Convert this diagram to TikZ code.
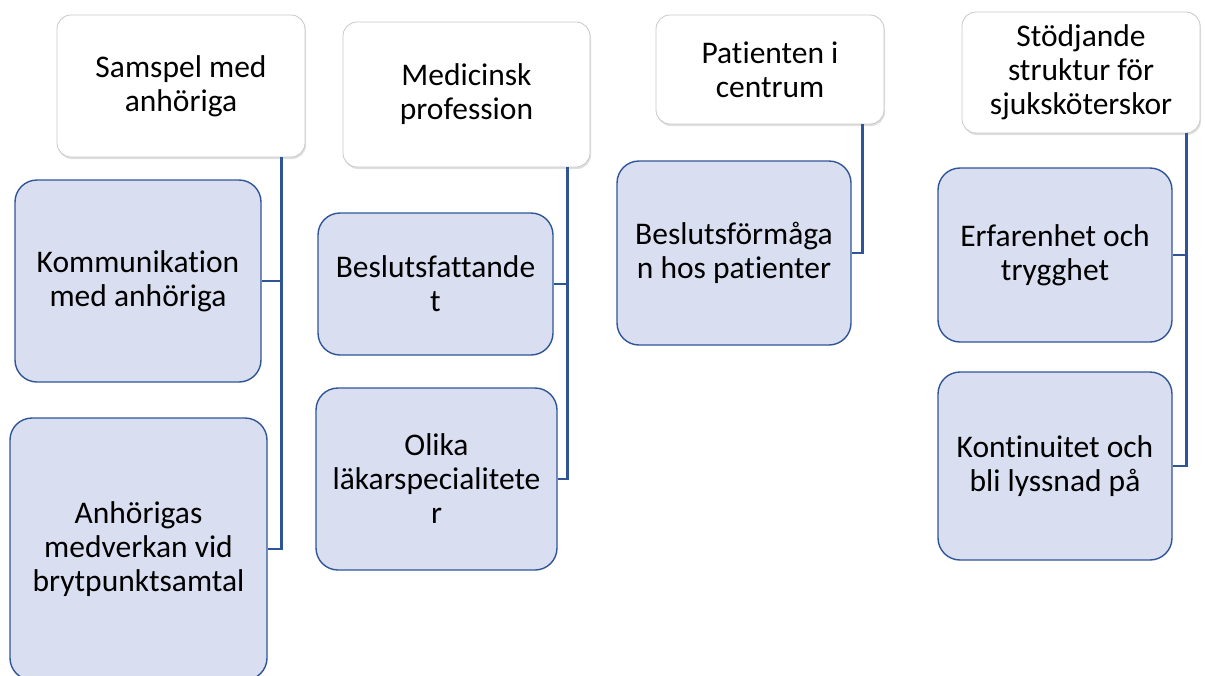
\documentclass[tikz,border=0pt]{standalone}
\usepackage{fontspec}
\setmainfont{Carlito}[Ligatures=CommonOff]
\usetikzlibrary{positioning,shadows}

\definecolor{themefill}{RGB}{217,223,240}
\definecolor{themeline}{RGB}{47,85,151}
\definecolor{headline}{RGB}{200,200,200}

\begin{document}
\begin{tikzpicture}[x=1pt, y=-1pt,
    every node/.style={align=center, font=\fontsize{31.5}{34}\selectfont},
    head/.style={draw=headline, fill=white, rounded corners=14pt, line width=0.8pt,
                 drop shadow={shadow xshift=1pt, shadow yshift=-2pt, opacity=0.25}},
    sub/.style={draw=themeline, fill=themefill, rounded corners=22pt, line width=1.4pt},
    link/.style={draw=themeline, line width=2.2pt}]
                    \useasboundingbox (0,0) rectangle (1205,675);

                    % samspel
                    \node [head, minimum width=248pt, minimum height=142pt] (h1) at (181,86) {Samspel med\\anhöriga};
                    \node [sub, minimum width=246pt, minimum height=202pt] (k1) at (138,281) {Kommunikation\\med anhöriga};
                    \node [sub, minimum width=257pt, minimum height=262pt] (k2) at (138.5,549) {Anhörigas\\medverkan vid\\brytpunktsamtal};

                    % medicinsk
                    \node [head, minimum width=247pt, minimum height=145pt] (h2) at (466.5,94.5) {Medicinsk\\profession};
                    \node [sub, minimum width=235pt, minimum height=142pt] (m1) at (435.5,284) {Beslutsfattande\\t};
                    \node [sub, minimum width=241pt, minimum height=182pt] (m2) at (436.5,479) {Olika\\läkarspecialitete\\r};

                    % patienten
                    \node [head, minimum width=228pt, minimum height=109pt] (h3) at (770,69.5) {Patienten i\\centrum};
                    \node [sub, minimum width=234pt, minimum height=184pt] (p1) at (734,253) {Beslutsförmåga\\n hos patienter};

                    % struktur
                    \node [head, minimum width=238pt, minimum height=121pt] (h4) at (1081,72.5) {Stödjande\\struktur för\\sjuksköterskor};
                    \node [sub, minimum width=234pt, minimum height=174pt] (s1) at (1055,255) {Erfarenhet och\\trygghet};
                    \node [sub, minimum width=234pt, minimum height=188pt] (s2) at (1055,466) {Kontinuitet och\\bli lyssnad på};

                    \path[link]
                    ([xshift=-24pt]h1.south east) |- (k1.east)
                    ([xshift=-24pt]h1.south east) |- (k2.east)
                    ([xshift=-23pt]h2.south east) |- (m1.east)
                    ([xshift=-23pt]h2.south east) |- (m2.east)
                    ([xshift=-22pt]h3.south east) |- (p1.east)
                    ([xshift=-14pt]h4.south east) |- (s1.east)
                    ([xshift=-14pt]h4.south east) |- (s2.east);

                \end{tikzpicture}
\end{document}
